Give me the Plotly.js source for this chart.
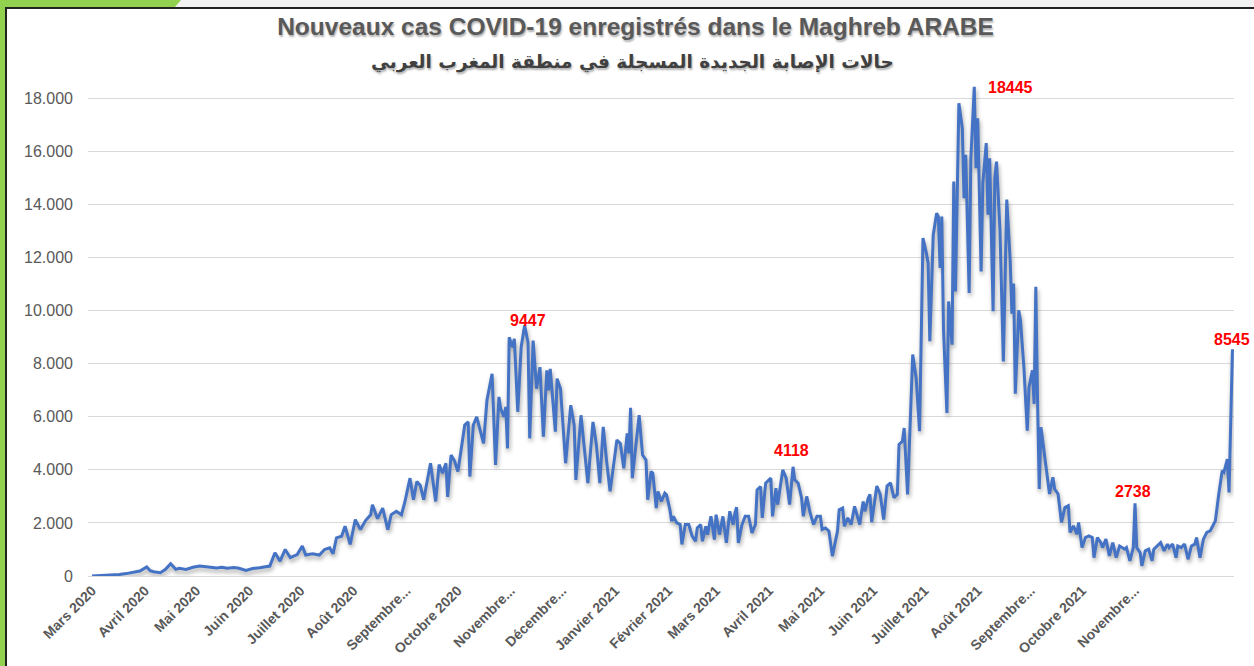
<!DOCTYPE html>
<html>
<head>
<meta charset="utf-8">
<script src="https://cdn.plot.ly/plotly-3.0.1.min.js"></script>
<style>
  html, body { margin: 0; padding: 0; background: #f2f2f2; }
  #wrap { position: relative; width: 1254px; height: 666px; overflow: hidden; background: #f2f2f2; }
  #greenLeft { position: absolute; left: 0; top: 0; width: 5px; height: 666px; background: #92D050; }
  #greenTop { position: absolute; left: 0; top: 0; width: 181px; height: 7px; background: #92D050;
              clip-path: polygon(0 0, 181px 0, 175px 7px, 0 7px); }
  #chart { position: absolute; left: 5px; top: 7px; width: 1247px; height: 659px;
           border-left: 2px solid #222; border-top: 2px solid #222; background: #fff; }
  #chart .js-line { filter: drop-shadow(1px 3px 2px rgba(0,0,0,0.35)); }
</style>
</head>
<body>
<div id="wrap">
  <div id="greenLeft"></div>
  <div id="greenTop"></div>
  <div id="chart"></div>
</div>
<script>
// ---- data (days since 2020-03-01, daily new cases) ----
const startDate = '2020-03-01';
const dayOffsets = [
  0,4,10,16,20,24,28,32,34,36,40,43,46,49,51,55,59,63,66,69,73,76,79,83,86,90,94,98,101,104,
  107,110,113,116,120,123,125,129,133,136,139,141,143,146,148,151,154,157,160,163,164,167,170,173,175,178,181,183,186,188,
  190,192,194,196,198,201,203,205,207,208,210,212,214,216,218,220,221,223,225,227,229,231,234,236,238,239,241,242,243,244,
  246,247,249,251,253,255,256,258,260,262,264,266,267,268,271,272,274,277,280,282,283,286,288,290,293,295,297,299,301,303,
  307,309,311,313,314,315,316,318,320,322,324,325,327,328,330,331,333,335,336,338,339,340,342,344,345,347,349,351,353,354,
  356,357,359,360,362,364,365,367,369,371,373,375,376,377,378,380,382,384,386,388,389,391,392,394,395,397,398,400,401,404,
  406,408,410,411,413,415,416,418,420,422,424,426,427,429,431,433,436,437,439,440,442,444,446,447,449,451,452,454,455,456,
  459,461,463,465,467,469,471,472,474,475,477,480,482,484,486,488,489,490,492,494,495,496,497,498,500,501,503,504,505,507,
  509,510,511,513,514,516,517,518,520,521,523,524,525,527,528,529,531,533,535,537,538,539,540,542,543,545,546,547,548,550,
  551,552,553,554,555,557,558,559,560,562,563,565,566,567,569,571,572,574,576,577,579,581,583,585,586,588,590,591,593,595,
  597,599,601,604,605,607,609,610,611,613,614,616,618,620,621,623,625,627,629,630,632,634,635,637,639,641,643,645,646,648,
  650,652,654,655,657,659,661,662,664,665,667
];
const cases = [
  0,10,40,60,90,150,190,340,200,160,125,250,460,250,290,250,330,375,350,340,300,330,290,320,290,210,280,310,340,375,
  875,560,1000,690,810,1125,790,840,790,1000,1060,840,1440,1500,1875,1190,2125,1750,2090,2310,2690,2160,2560,1750,2310,2440,2310,2790,3690,2875,
  3560,3410,2875,3560,4250,2810,4200,3875,4250,2980,4560,4340,3940,4810,5690,5810,3750,5690,6000,5500,5000,6625,7625,4190,6750,6310,6000,6375,4810,9000,
  8625,8940,6190,8625,9447,8810,5190,8875,7060,7875,5250,7750,7000,7810,5440,7440,7060,4250,6440,5690,3625,6060,4810,3500,5810,4940,3500,5625,4310,3190,
  5125,5000,4060,5375,4625,6340,3690,4810,6060,4560,4375,2875,3940,3875,2560,3190,2810,3125,3060,2500,2060,2250,2000,1940,1190,1940,1940,1500,1310,1810,
  1940,1310,1875,1560,2250,1375,2310,1560,2250,1250,2440,1940,2375,2590,1250,1900,2250,2250,1625,1940,3250,3375,2190,3500,3560,3690,2250,3310,2690,4000,
  3690,2690,4118,3625,3500,2940,2250,3000,2375,1940,2250,2250,1750,1810,1690,750,1690,2500,2560,1875,2190,1940,2625,2375,1940,2810,2440,2940,3075,2030,
  3390,3075,2130,3390,3510,2950,3075,4960,5080,5580,3075,8350,7470,5460,12740,12170,11800,8850,12860,13680,13550,11610,13550,9290,6150,10350,8720,14870,10730,17820,
  16880,14240,15880,10670,15750,18445,15370,17260,11480,14810,16320,13620,15750,9980,15000,15620,13110,8090,14190,11900,9890,11030,6870,10020,9640,7880,6870,5480,7120,7750,
  6490,10900,6620,3280,5610,4600,4100,3470,3090,3720,3280,3090,2580,2020,2580,2650,1640,1890,1575,2020,1070,1450,1510,1450,690,1450,1260,1070,1390,760,
  1260,690,1130,1010,1070,570,1070,2738,1070,880,380,950,1010,570,1010,1130,1260,950,1200,1070,1200,690,1130,1070,1200,630,1130,1200,1450,690,
  1390,1640,1700,1830,2080,3090,3970,3910,4410,3150,8545
];
const monthTicks = [
  '2020-03-01','2020-04-01','2020-05-01','2020-06-01','2020-07-01','2020-08-01','2020-09-01',
  '2020-10-01','2020-11-01','2020-12-01','2021-01-01','2021-02-01','2021-03-01','2021-04-01',
  '2021-05-01','2021-06-01','2021-07-01','2021-08-01','2021-09-01','2021-10-01','2021-11-01'
];
const monthLabels = [
  'Mars 2020','Avril 2020','Mai 2020','Juin 2020','Juillet 2020','Août 2020','Septembre...',
  'Octobre 2020','Novembre...','Décembre...','Janvier 2021','Février 2021','Mars 2021','Avril 2021',
  'Mai 2021','Juin 2021','Juillet 2021','Août 2021','Septembre...','Octobre 2021','Novembre...'
];
const labeledDays = [253, 410, 516, 610, 667];
const yTicks = [0,2000,4000,6000,8000,10000,12000,14000,16000,18000];

// ---- build ----
const t0 = Date.UTC(2020, 2, 1);
function toDate(d) { return new Date(t0 + d * 86400000).toISOString().slice(0, 10); }
const xDates = dayOffsets.map(toDate);

const labelStyle = { 253: {xanchor:'center', yshift: -6, xshift: 3},
                     410: {xanchor:'center', yshift: 6, xshift: -2},
                     516: {xanchor:'left', yshift: -11, xshift: 12},
                     610: {xanchor:'center', yshift: 1, xshift: -2},
                     667: {xanchor:'center', yshift: -1, xshift: 0} };
const annotations = labeledDays.map(function(d) {
  const i = dayOffsets.indexOf(d);
  const s = labelStyle[d];
  return { x: xDates[i], y: cases[i], text: String(cases[i]), showarrow: false,
           xanchor: s.xanchor, yanchor: 'bottom', xshift: s.xshift, yshift: s.yshift,
           font: { family: 'Liberation Sans, Arial, sans-serif', size: 16, color: '#FF0000', weight: 'bold' } };
});
annotations.push({
  xref: 'paper', yref: 'paper', x: 0.475, y: 1.0, xanchor: 'center', yanchor: 'middle', yshift: 10,
  text: 'حالات الإصابة الجديدة المسجلة في منطقة المغرب العربي', showarrow: false,
  font: { family: 'DejaVu Sans, Noto Sans, sans-serif', size: 18.5, color: '#404040', weight: 'bold',
          shadow: '1px 2px 2px rgba(0,0,0,0.3)' }
});

const trace = {
  x: xDates, y: cases, type: 'scatter', mode: 'lines',
  line: { color: '#4472C4', width: 3 }, hoverinfo: 'skip'
};

const layout = {
  width: 1247, height: 659,
  margin: { l: 81, r: 20, t: 63, b: 92, pad: 0 },
  paper_bgcolor: '#ffffff', plot_bgcolor: '#ffffff',
  separators: ',.',
  showlegend: false,
  title: {
    text: 'Nouveaux cas COVID-19 enregistrés dans le Maghreb ARABE',
    x: 0.504, xref: 'container', xanchor: 'center',
    y: 0.986, yref: 'container', yanchor: 'top',
    font: { family: 'Liberation Sans, Arial, sans-serif', size: 24.5, color: '#595959', weight: 'bold',
            shadow: '1px 2px 2px rgba(0,0,0,0.3)' }
  },
  xaxis: {
    type: 'date',
    range: ['2020-02-27 16:00', '2021-12-28 21:30'],
    tickmode: 'array', tickvals: monthTicks, ticktext: monthLabels,
    tickangle: -45, ticks: '', ticklabelstandoff: 0,
    showgrid: false, showline: true, linecolor: '#D9D9D9', linewidth: 1,
    zeroline: false,
    tickfont: { family: 'Liberation Sans, Arial, sans-serif', size: 14, color: '#595959', weight: 'bold' }
  },
  yaxis: {
    range: [0, 19000],
    tickmode: 'array', tickvals: yTicks, tickformat: ',d',
    showgrid: true, gridcolor: '#D9D9D9', gridwidth: 1,
    zeroline: false, showline: false, ticks: '', ticklabelstandoff: 14,
    tickfont: { family: 'Liberation Sans, Arial, sans-serif', size: 16, color: '#595959' }
  },
  annotations: annotations
};

Plotly.newPlot('chart', [trace], layout, { displayModeBar: false, staticPlot: true });
</script>
</body>
</html>
